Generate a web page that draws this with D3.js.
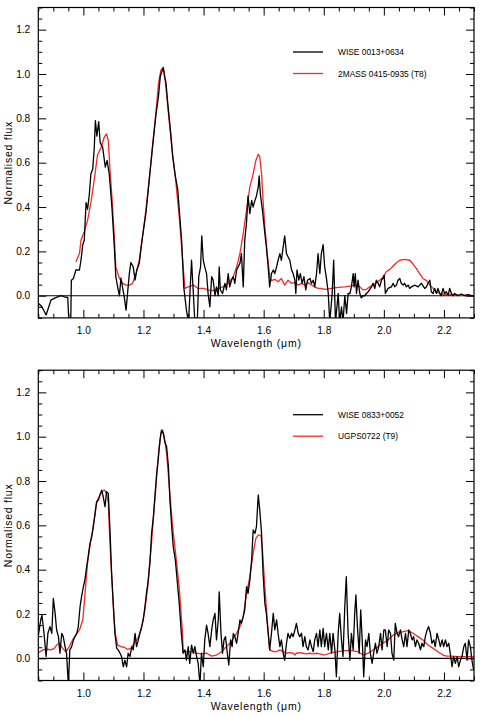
<!DOCTYPE html>
<html>
<head>
<meta charset="utf-8">
<script src="https://cdn.jsdelivr.net/npm/d3@7"></script>
<style>
  html, body { margin: 0; padding: 0; background: #fff; }
  svg { display: block; font-family: "Liberation Sans", Arial, Helvetica, sans-serif; }
  .axis text { font-size: 10.2px; fill: #000; }
  .axis line { stroke: #000; stroke-width: 1; }
  .legend text { font-size: 8.4px; fill: #000; }
  .title { font-size: 10.5px; letter-spacing: 0.75px; fill: #000; }
</style>
</head>
<body>
<svg id="chart" width="485" height="715"></svg>
<script>
// axis setup
var x_domain = [0.85, 2.3],
  y_domain = [-0.1, 1.3],
  x_ticks = [1.0, 1.2, 1.4, 1.6, 1.8, 2.0, 2.2],
  y_ticks = [0.0, 0.2, 0.4, 0.6, 0.8, 1.0, 1.2],
  x_title = 'Wavelength (\u03bcm)',
  y_title = 'Normalised flux';

// legend labels
var top_names = ['WISE 0013+0634', '2MASS 0415-0935 (T8)'],
  bottom_names = ['WISE 0833+0052', 'UGPS0722 (T9)'];

// [wavelength (um), normalised flux]
var wise0013 = [
  [0.851,-0.035],[0.862,-0.05],[0.876,-0.087],[0.885,-0.05],[0.892,-0.02],[0.903,-0.012],[0.914,-0.005],
  [0.926,0.0],[0.937,-0.005],[0.948,-0.008],[0.953,-0.15],[0.958,-0.12],[0.960,0.07],[0.967,0.078],
  [0.975,0.116],[0.987,0.116],[0.992,0.16],[0.998,0.23],[1.003,0.25],[1.009,0.42],[1.014,0.39],
  [1.020,0.46],[1.025,0.55],[1.031,0.57],[1.036,0.66],[1.040,0.79],[1.045,0.72],[1.051,0.785],
  [1.056,0.69],[1.064,0.67],[1.073,0.58],[1.079,0.61],[1.086,0.55],[1.095,0.40],[1.103,0.22],
  [1.108,0.086],[1.114,0.04],[1.120,0.0],[1.125,0.08],[1.131,0.033],[1.136,-0.005],[1.142,-0.065],
  [1.147,0.01],[1.153,0.10],[1.158,0.15],[1.166,0.13],[1.172,0.07],[1.178,0.116],[1.186,0.146],
  [1.195,0.25],[1.208,0.37],[1.219,0.52],[1.230,0.67],[1.241,0.81],[1.250,0.90],[1.256,0.99],
  [1.261,1.01],[1.266,1.03],[1.270,0.99],[1.275,0.96],[1.280,0.88],[1.291,0.73],[1.297,0.63],
  [1.306,0.54],[1.314,0.48],[1.319,0.39],[1.327,0.25],[1.334,0.04],[1.343,-0.065],[1.350,-0.12],
  [1.360,0.16],[1.366,0.01],[1.371,-0.12],[1.379,-0.12],[1.384,0.086],[1.390,0.13],[1.394,0.27],
  [1.399,0.16],[1.404,0.13],[1.410,0.10],[1.415,0.01],[1.421,-0.05],[1.427,0.086],[1.432,0.07],
  [1.438,0.0],[1.443,0.04],[1.449,0.0],[1.452,0.13],[1.456,0.026],[1.463,0.01],[1.471,0.056],
  [1.476,0.026],[1.482,0.10],[1.487,0.04],[1.493,0.07],[1.499,0.086],[1.504,0.056],[1.510,0.116],
  [1.515,0.13],[1.521,0.146],[1.526,0.19],[1.532,0.04],[1.537,0.25],[1.543,0.33],[1.548,0.45],
  [1.554,0.37],[1.560,0.43],[1.565,0.40],[1.571,0.43],[1.576,0.45],[1.582,0.49],[1.585,0.54],
  [1.589,0.46],[1.596,0.385],[1.604,0.28],[1.609,0.22],[1.615,0.13],[1.620,0.04],[1.626,0.10],
  [1.632,0.116],[1.637,0.10],[1.643,0.13],[1.648,0.16],[1.654,0.19],[1.659,0.16],[1.665,0.22],
  [1.670,0.27],[1.676,0.19],[1.681,0.176],[1.687,0.16],[1.693,0.116],[1.698,0.10],[1.704,0.07],
  [1.707,0.01],[1.711,0.116],[1.717,0.07],[1.722,0.10],[1.728,0.056],[1.734,0.086],[1.740,0.026],
  [1.746,0.07],[1.754,0.078],[1.759,0.056],[1.765,0.07],[1.770,0.04],[1.776,0.10],[1.781,0.19],
  [1.787,0.10],[1.792,0.19],[1.798,0.23],[1.803,0.13],[1.809,0.078],[1.815,0.01],[1.820,-0.12],
  [1.828,0.01],[1.833,0.16],[1.839,-0.12],[1.848,0.01],[1.853,-0.12],[1.859,-0.05],[1.864,-0.12],
  [1.870,0.0],[1.876,-0.08],[1.881,0.01],[1.887,0.01],[1.892,0.04],[1.898,0.10],[1.901,0.04],
  [1.905,0.10],[1.909,0.01],[1.914,0.07],[1.920,0.01],[1.925,-0.01],[1.931,0.0],[1.936,0.0],
  [1.942,0.01],[1.948,0.018],[1.959,0.04],[1.964,0.056],[1.970,0.033],[1.975,0.07],[1.981,0.056],
  [1.986,0.04],[1.992,0.07],[1.997,0.078],[2.001,0.093],[2.005,0.01],[2.014,0.033],[2.025,0.04],
  [2.031,0.056],[2.036,0.04],[2.042,0.048],[2.047,0.07],[2.053,0.078],[2.058,0.056],[2.064,0.048],
  [2.069,0.056],[2.075,0.04],[2.081,0.048],[2.086,0.033],[2.092,0.04],[2.103,0.048],[2.114,0.04],
  [2.125,0.056],[2.136,0.033],[2.142,0.04],[2.147,0.056],[2.153,0.07],[2.158,0.018],[2.164,0.01],
  [2.169,0.033],[2.175,0.01],[2.180,0.033],[2.186,0.01],[2.191,0.0],[2.197,0.033],[2.202,0.01],
  [2.208,0.018],[2.214,0.003],[2.219,0.033],[2.225,0.01],[2.230,0.0],[2.236,0.01],[2.247,0.0],
  [2.258,0.008],[2.269,0.0],[2.280,0.005],[2.291,0.0],[2.300,0.0]
];

var ref0415 = [
  [0.975,0.153],[0.987,0.19],[0.992,0.25],[1.003,0.29],[1.014,0.34],[1.025,0.42],[1.036,0.52],
  [1.047,0.635],[1.059,0.67],[1.070,0.717],[1.077,0.73],[1.083,0.70],[1.088,0.58],[1.095,0.447],
  [1.103,0.266],[1.108,0.13],[1.120,0.078],[1.131,0.056],[1.142,0.048],[1.153,0.048],[1.164,0.056],
  [1.175,0.10],[1.186,0.16],[1.197,0.266],[1.208,0.386],[1.219,0.52],[1.230,0.67],[1.241,0.82],
  [1.250,0.958],[1.258,1.018],[1.264,1.026],[1.269,1.01],[1.277,0.91],[1.286,0.78],[1.297,0.64],
  [1.308,0.51],[1.319,0.356],[1.327,0.22],[1.334,0.10],[1.338,0.033],[1.349,0.04],[1.366,0.048],
  [1.382,0.033],[1.399,0.033],[1.415,0.026],[1.432,0.023],[1.449,0.033],[1.465,0.04],[1.482,0.056],
  [1.499,0.086],[1.510,0.13],[1.521,0.19],[1.532,0.28],[1.543,0.386],[1.554,0.49],[1.565,0.55],
  [1.574,0.61],[1.582,0.638],[1.587,0.627],[1.593,0.55],[1.598,0.43],[1.604,0.31],[1.612,0.19],
  [1.620,0.086],[1.626,0.068],[1.637,0.074],[1.648,0.063],[1.659,0.078],[1.670,0.048],[1.681,0.07],
  [1.693,0.056],[1.704,0.059],[1.715,0.048],[1.726,0.056],[1.737,0.048],[1.748,0.059],[1.759,0.048],
  [1.770,0.04],[1.781,0.033],[1.792,0.033],[1.803,0.029],[1.826,0.033],[1.848,0.038],[1.870,0.04],
  [1.892,0.044],[1.909,0.048],[1.920,0.04],[1.931,0.026],[1.942,0.029],[1.953,0.04],[1.964,0.048],
  [1.975,0.059],[1.986,0.07],[1.997,0.083],[2.008,0.108],[2.020,0.119],[2.031,0.134],[2.042,0.149],
  [2.053,0.16],[2.069,0.164],[2.086,0.16],[2.097,0.143],[2.108,0.123],[2.119,0.10],[2.130,0.078],
  [2.142,0.068],[2.153,0.048],[2.164,0.033],[2.175,0.018],[2.186,0.01],[2.202,0.006],[2.225,0.006],
  [2.247,0.003],[2.269,0.003],[2.300,0.0]
];

var wise0833 = [
  [0.848,0.083],[0.853,0.128],[0.858,0.173],[0.862,0.195],[0.869,0.113],[0.876,0.008],[0.882,0.113],
  [0.889,0.143],[0.895,0.113],[0.900,0.27],[0.906,0.203],[0.911,0.128],[0.917,0.098],[0.922,0.023],
  [0.928,0.113],[0.933,0.098],[0.939,0.053],[0.944,0.023],[0.950,-0.12],[0.955,0.038],[0.961,0.053],
  [0.967,0.083],[0.972,0.098],[0.978,0.113],[0.983,0.143],[0.989,0.233],[0.994,0.278],[1.000,0.323],
  [1.005,0.353],[1.011,0.414],[1.016,0.459],[1.022,0.519],[1.028,0.549],[1.033,0.594],[1.039,0.654],
  [1.044,0.707],[1.050,0.714],[1.055,0.737],[1.061,0.759],[1.066,0.729],[1.072,0.684],[1.077,0.752],
  [1.083,0.744],[1.089,0.564],[1.094,0.383],[1.100,0.233],[1.105,0.113],[1.111,0.045],[1.116,0.038],
  [1.122,0.023],[1.127,0.008],[1.133,-0.038],[1.138,-0.008],[1.144,-0.038],[1.149,0.023],[1.155,0.008],
  [1.161,0.053],[1.166,0.038],[1.172,0.113],[1.177,0.053],[1.183,0.083],[1.188,0.113],[1.194,0.143],
  [1.199,0.173],[1.205,0.233],[1.210,0.293],[1.216,0.353],[1.222,0.444],[1.227,0.564],[1.233,0.639],
  [1.238,0.729],[1.244,0.835],[1.249,0.895],[1.255,0.985],[1.260,1.03],[1.266,1.015],[1.271,0.977],
  [1.277,0.955],[1.283,0.865],[1.288,0.714],[1.294,0.594],[1.299,0.504],[1.306,0.444],[1.314,0.323],
  [1.319,0.248],[1.326,0.113],[1.332,0.023],[1.338,0.038],[1.343,-0.008],[1.349,0.053],[1.354,-0.023],
  [1.360,0.06],[1.366,0.023],[1.371,0.053],[1.377,0.008],[1.382,-0.023],[1.388,-0.12],[1.393,0.023],
  [1.399,-0.038],[1.404,0.083],[1.410,0.15],[1.415,0.113],[1.421,0.053],[1.427,0.128],[1.432,0.173],
  [1.438,0.203],[1.443,0.083],[1.449,0.173],[1.452,0.30],[1.458,0.113],[1.463,0.023],[1.468,0.083],
  [1.473,0.098],[1.479,0.023],[1.484,-0.03],[1.490,0.083],[1.495,0.053],[1.499,0.113],[1.504,0.098],
  [1.510,0.068],[1.515,0.113],[1.521,0.173],[1.526,0.158],[1.532,0.188],[1.537,0.218],[1.543,0.323],
  [1.548,0.293],[1.554,0.353],[1.560,0.444],[1.565,0.579],[1.571,0.564],[1.576,0.594],[1.582,0.737],
  [1.587,0.669],[1.593,0.564],[1.598,0.383],[1.604,0.248],[1.609,0.203],[1.615,0.113],[1.620,0.038],
  [1.626,0.113],[1.632,0.203],[1.637,0.128],[1.643,0.173],[1.648,0.113],[1.654,0.053],[1.659,0.083],
  [1.665,0.023],[1.670,-0.008],[1.676,0.068],[1.681,0.113],[1.687,0.09],[1.693,0.113],[1.698,0.098],
  [1.704,0.128],[1.709,0.158],[1.715,0.113],[1.720,0.098],[1.726,0.113],[1.731,0.053],[1.737,0.098],
  [1.742,0.053],[1.748,0.038],[1.754,0.083],[1.759,0.053],[1.765,0.03],[1.770,0.083],[1.776,0.113],
  [1.781,0.053],[1.787,0.128],[1.792,0.053],[1.798,0.135],[1.803,0.053],[1.809,0.113],[1.815,0.038],
  [1.820,0.113],[1.826,0.023],[1.831,0.113],[1.837,0.038],[1.842,-0.083],[1.848,0.113],[1.853,0.203],
  [1.859,0.083],[1.864,0.008],[1.870,0.233],[1.875,0.368],[1.881,0.113],[1.887,-0.008],[1.892,0.113],
  [1.898,0.038],[1.903,0.203],[1.907,0.286],[1.912,0.143],[1.918,0.023],[1.923,0.218],[1.929,0.053],
  [1.933,-0.083],[1.939,0.083],[1.944,0.053],[1.950,0.113],[1.955,0.023],[1.961,-0.023],[1.966,0.023],
  [1.972,0.068],[1.977,0.023],[1.983,0.053],[1.989,0.113],[1.994,0.038],[2.000,0.128],[2.005,0.128],
  [2.011,0.053],[2.016,0.128],[2.022,0.113],[2.027,0.023],[2.033,-0.008],[2.038,0.158],[2.044,0.113],
  [2.049,0.098],[2.055,0.128],[2.061,0.083],[2.066,0.053],[2.072,0.113],[2.077,0.053],[2.083,0.128],
  [2.088,0.113],[2.094,0.083],[2.099,0.098],[2.105,0.053],[2.110,0.083],[2.116,0.068],[2.122,0.038],
  [2.127,0.068],[2.133,0.053],[2.138,0.098],[2.144,0.128],[2.149,0.143],[2.155,0.113],[2.160,0.068],
  [2.166,0.083],[2.171,0.053],[2.177,0.113],[2.183,0.083],[2.188,0.053],[2.194,0.083],[2.199,0.053],
  [2.205,0.083],[2.210,0.053],[2.216,0.068],[2.221,0.023],[2.227,-0.038],[2.232,0.008],[2.238,-0.023],
  [2.244,0.008],[2.249,-0.038],[2.255,-0.008],[2.260,0.008],[2.266,0.053],[2.271,0.068],[2.277,-0.008],
  [2.282,0.083],[2.288,0.053],[2.293,-0.008],[2.299,-0.053]
];

var ugps0722 = [
  [0.848,0.023],[0.865,0.038],[0.881,0.041],[0.892,0.038],[0.903,0.045],[0.911,0.06],[0.920,0.068],
  [0.931,0.045],[0.942,0.03],[0.953,0.053],[0.964,0.083],[0.975,0.105],[0.987,0.128],[0.998,0.173],
  [1.003,0.248],[1.009,0.353],[1.014,0.43],[1.020,0.49],[1.025,0.534],[1.031,0.58],[1.036,0.624],
  [1.042,0.684],[1.047,0.714],[1.053,0.73],[1.061,0.75],[1.070,0.76],[1.077,0.744],[1.083,0.70],
  [1.088,0.534],[1.095,0.353],[1.101,0.203],[1.106,0.113],[1.114,0.06],[1.125,0.053],[1.136,0.05],
  [1.147,0.04],[1.158,0.045],[1.169,0.068],[1.181,0.09],[1.192,0.128],[1.203,0.203],[1.214,0.32],
  [1.225,0.49],[1.236,0.684],[1.244,0.82],[1.250,0.925],[1.258,1.015],[1.264,1.03],[1.269,1.0],
  [1.277,0.925],[1.286,0.774],[1.297,0.594],[1.308,0.46],[1.319,0.32],[1.330,0.113],[1.332,0.03],
  [1.343,0.03],[1.360,0.03],[1.377,0.023],[1.393,0.02],[1.410,0.023],[1.427,0.01],[1.443,0.015],
  [1.460,0.03],[1.476,0.053],[1.487,0.068],[1.499,0.09],[1.510,0.113],[1.521,0.143],[1.532,0.188],
  [1.543,0.293],[1.554,0.368],[1.565,0.474],[1.574,0.541],[1.582,0.556],[1.591,0.556],[1.596,0.489],
  [1.604,0.323],[1.612,0.173],[1.620,0.038],[1.632,0.03],[1.643,0.03],[1.654,0.038],[1.665,0.03],
  [1.676,0.023],[1.687,0.026],[1.698,0.023],[1.704,0.015],[1.709,0.023],[1.720,0.026],[1.731,0.023],
  [1.742,0.02],[1.754,0.023],[1.765,0.02],[1.776,0.023],[1.787,0.02],[1.803,0.015],[1.826,0.026],
  [1.848,0.03],[1.870,0.035],[1.892,0.035],[1.914,0.03],[1.931,0.015],[1.948,0.023],[1.964,0.038],
  [1.981,0.053],[1.997,0.068],[2.014,0.083],[2.031,0.105],[2.047,0.117],[2.064,0.12],[2.081,0.125],
  [2.097,0.113],[2.114,0.098],[2.130,0.083],[2.147,0.06],[2.164,0.045],[2.180,0.03],[2.197,0.015],
  [2.208,0.01],[2.225,0.01],[2.247,0.008],[2.269,0.008],[2.300,0.008]
];

var black_col = '#000000',
  red_col = '#f22a2a';

function isMajor(v) {
  return Math.abs(v * 5 - Math.round(v * 5)) < 1e-6;
}

function addAxis(g, axis, transform) {
  var a = g.append('g')
    .attr('class', 'axis')
    .attr('transform', transform)
    .call(axis);
  a.select('.domain').remove();
  return a;
}

function drawPanel(svg, box, black, red, names) {
  var g = svg.append('g'),
    x = d3.scaleLinear().domain(x_domain).range([box.left, box.right]),
    y = d3.scaleLinear().domain(y_domain).range([box.bottom, box.top]),
    fmt = d3.format('.1f');

  var x_minor = d3.range(0.85, 2.3001, 0.05).filter(function (v) { return !isMajor(v); }),
    y_minor = d3.range(-0.1, 1.3001, 0.05).filter(function (v) { return !isMajor(v); });

  g.append('clipPath').attr('id', box.id)
    .append('rect')
    .attr('x', box.left).attr('y', box.top)
    .attr('width', box.right - box.left).attr('height', box.bottom - box.top);

  // zero line
  g.append('line')
    .attr('x1', box.left).attr('x2', box.right)
    .attr('y1', y(0)).attr('y2', y(0))
    .attr('stroke', black_col).attr('stroke-width', 1.1);

  var line = d3.line()
    .x(function (d) { return x(d[0]); })
    .y(function (d) { return y(d[1]); });

  var plot = g.append('g').attr('clip-path', 'url(#' + box.id + ')');

  plot.append('path').datum(red)
    .attr('d', line).attr('fill', 'none')
    .attr('stroke', red_col).attr('stroke-width', 1.3).attr('stroke-linejoin', 'round');

  plot.append('path').datum(black)
    .attr('d', line).attr('fill', 'none')
    .attr('stroke', black_col).attr('stroke-width', 1.3).attr('stroke-linejoin', 'round');

  // ticks on all four sides, pointing inwards
  addAxis(g, d3.axisLeft(y).tickValues(y_ticks).tickSize(-8).tickPadding(8).tickFormat(fmt), 'translate(' + box.left + ',0)');
  addAxis(g, d3.axisLeft(y).tickValues(y_minor).tickSize(-4).tickFormat(''), 'translate(' + box.left + ',0)');
  addAxis(g, d3.axisRight(y).tickValues(y_ticks).tickSize(-8).tickFormat(''), 'translate(' + box.right + ',0)');
  addAxis(g, d3.axisRight(y).tickValues(y_minor).tickSize(-4).tickFormat(''), 'translate(' + box.right + ',0)');
  addAxis(g, d3.axisBottom(x).tickValues(x_ticks).tickSize(-8).tickPadding(9).tickFormat(fmt), 'translate(0,' + box.bottom + ')');
  addAxis(g, d3.axisBottom(x).tickValues(x_minor).tickSize(-4).tickFormat(''), 'translate(0,' + box.bottom + ')');
  addAxis(g, d3.axisTop(x).tickValues(x_ticks).tickSize(-8).tickFormat(''), 'translate(0,' + box.top + ')');
  addAxis(g, d3.axisTop(x).tickValues(x_minor).tickSize(-4).tickFormat(''), 'translate(0,' + box.top + ')');

  g.append('rect')
    .attr('x', box.left).attr('y', box.top)
    .attr('width', box.right - box.left).attr('height', box.bottom - box.top)
    .attr('fill', 'none').attr('stroke', black_col).attr('stroke-width', 1.2);

  g.append('text').attr('class', 'title')
    .attr('x', (box.left + box.right) / 2).attr('y', box.bottom + 29)
    .attr('text-anchor', 'middle')
    .text(x_title);

  g.append('text').attr('class', 'title')
    .attr('transform', 'translate(12,' + ((box.top + box.bottom) / 2) + ') rotate(-90)')
    .attr('text-anchor', 'middle')
    .text(y_title);

  // legend
  var leg = g.append('g').attr('class', 'legend');
  [black_col, red_col].forEach(function (c, i) {
    var ly = box.top + 44.5 + i * 21.5;
    leg.append('line')
      .attr('x1', 293).attr('x2', 323).attr('y1', ly).attr('y2', ly)
      .attr('stroke', c).attr('stroke-width', 1.3);
    leg.append('text')
      .attr('x', 338).attr('y', ly + 3)
      .text(names[i]);
  });
}

var svg = d3.select('#chart');

drawPanel(svg, {id: 'clip_top', left: 38.3, right: 474, top: 7.5, bottom: 317.9}, wise0013, ref0415, top_names);
drawPanel(svg, {id: 'clip_bottom', left: 38.3, right: 474, top: 370.2, bottom: 680.5}, wise0833, ugps0722, bottom_names);
</script>
</body>
</html>
